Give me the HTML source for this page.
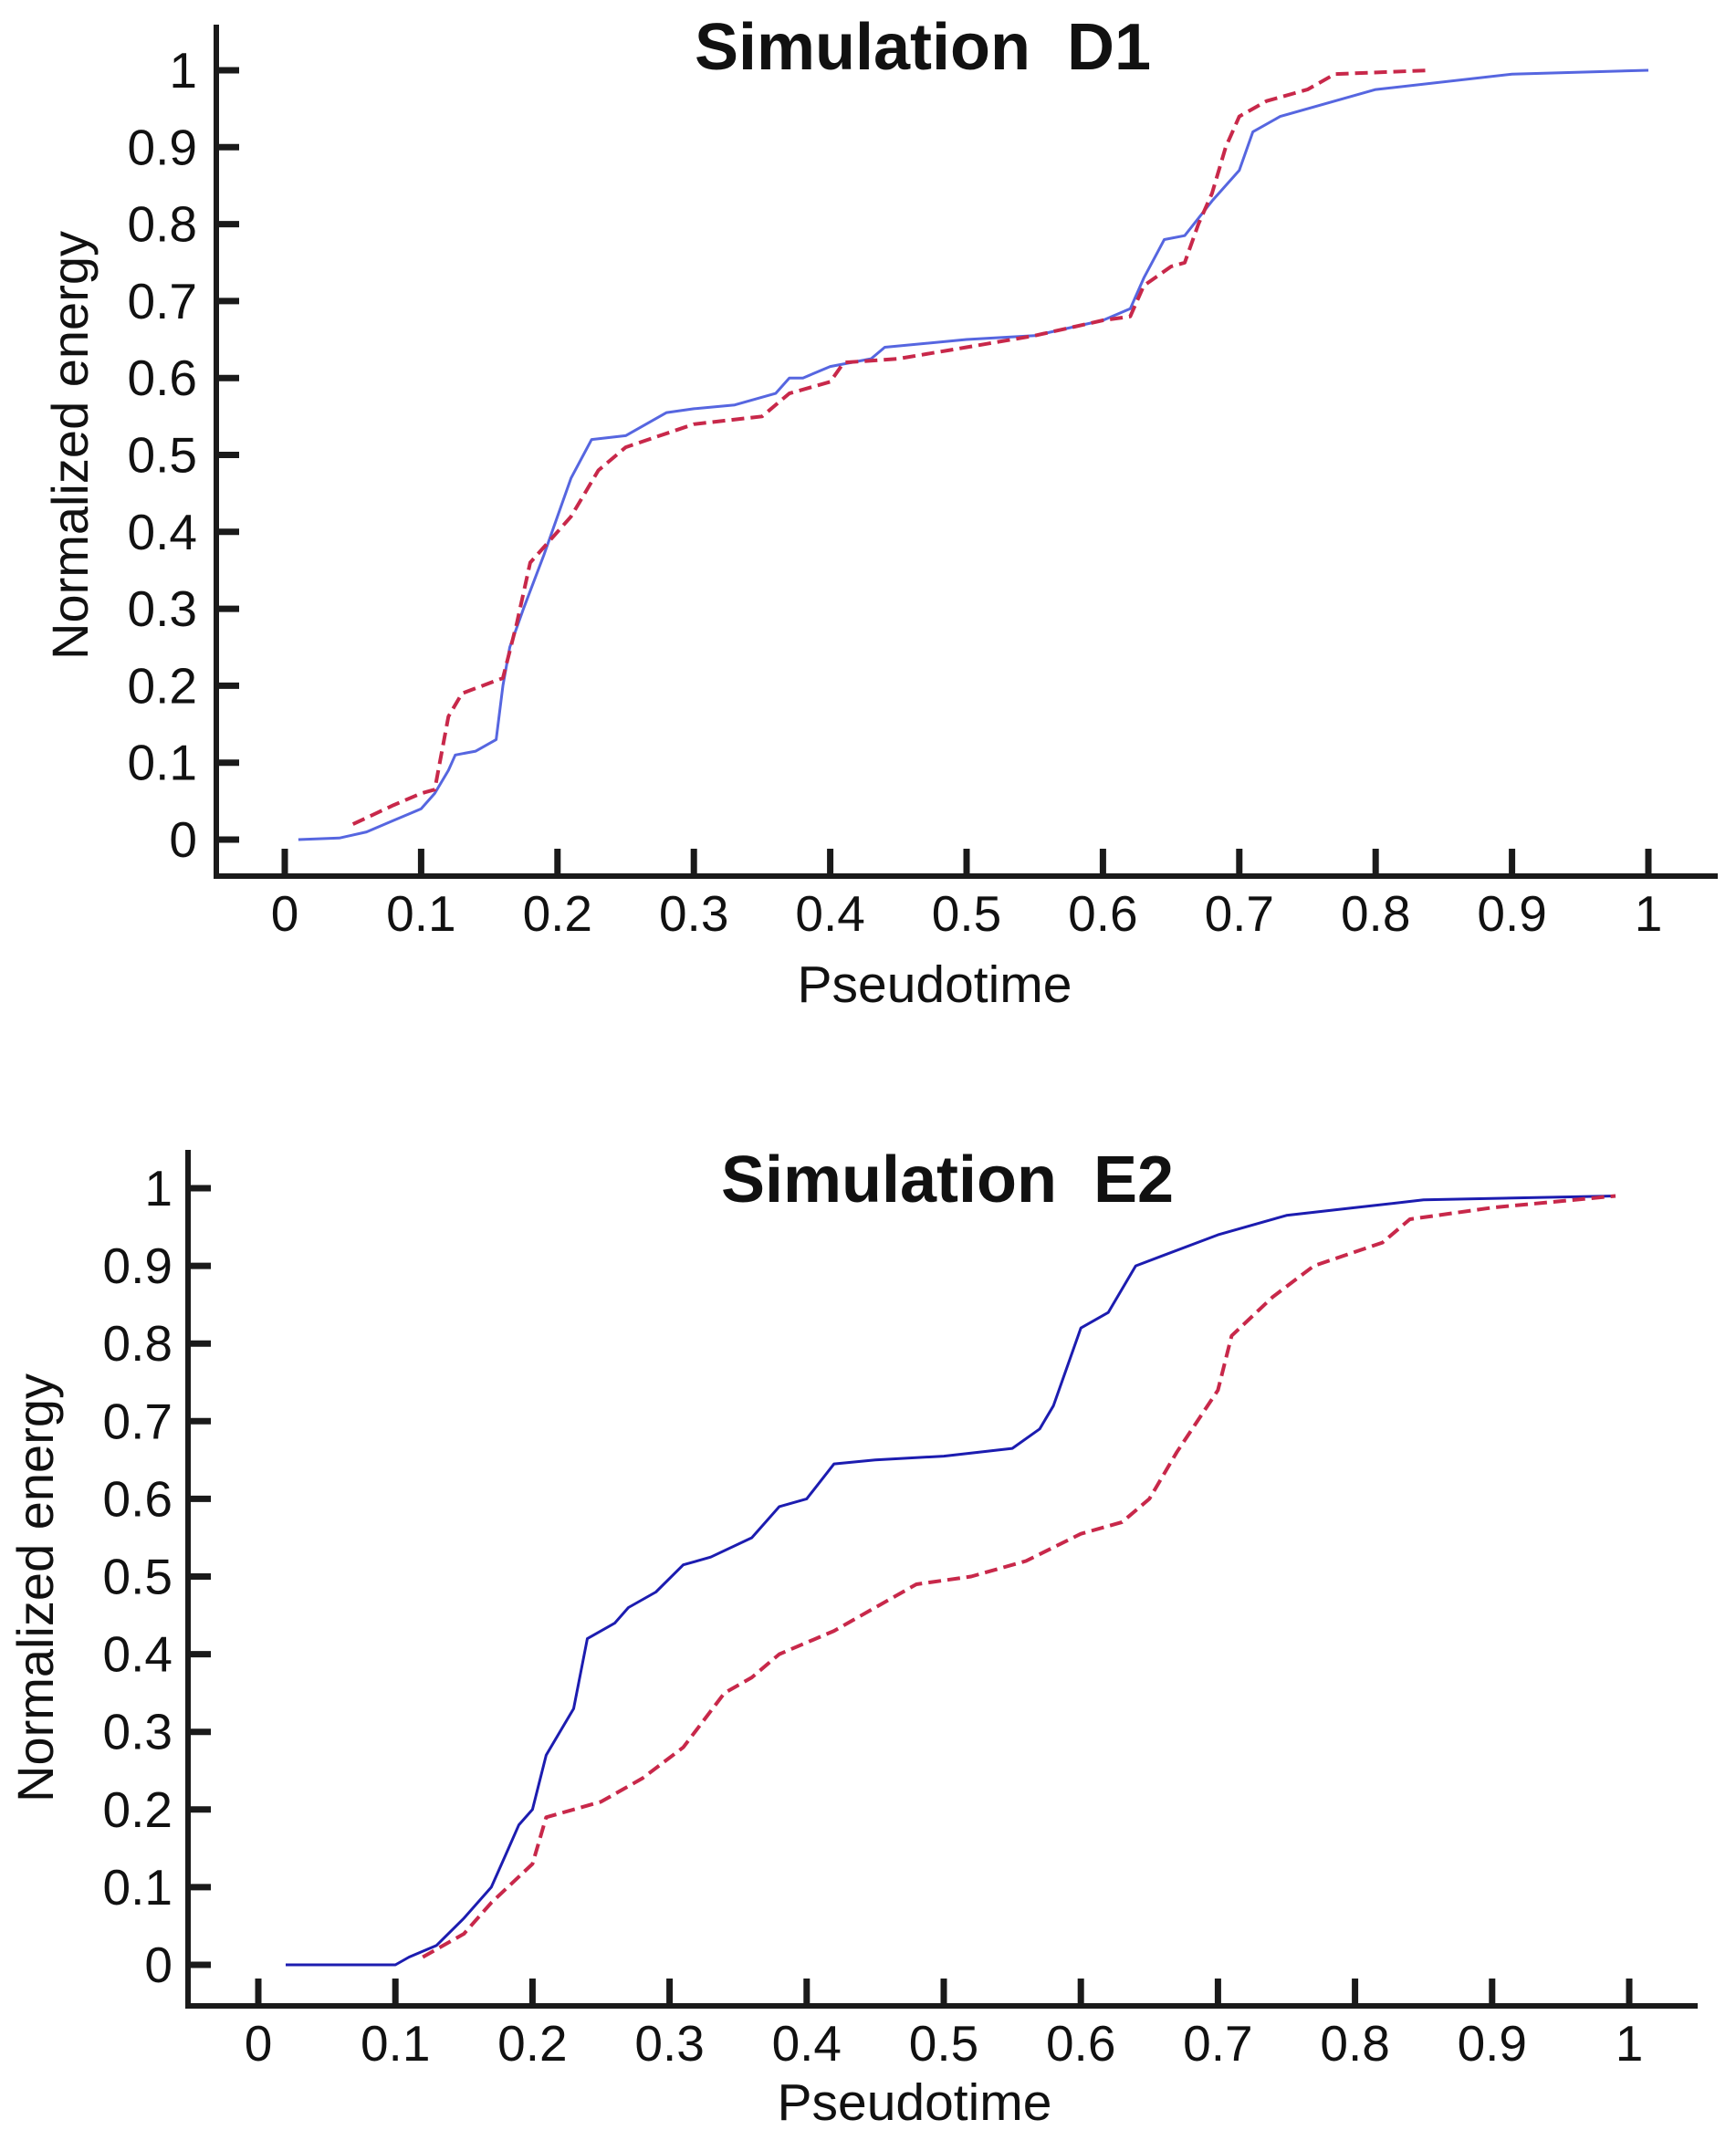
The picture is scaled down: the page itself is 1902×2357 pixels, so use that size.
<!DOCTYPE html>
<html><head><meta charset="utf-8">
<style>
html,body{margin:0;padding:0;background:#fff;}
svg{display:block;}
text{font-family:"Liberation Sans",Arial,sans-serif;fill:#111;}
</style></head>
<body>
<svg id="fig" width="1902" height="2357" viewBox="0 0 1902 2357" xmlns="http://www.w3.org/2000/svg"></svg>
<script>
// ---------- data ----------
const xTicks = [0,0.1,0.2,0.3,0.4,0.5,0.6,0.7,0.8,0.9,1];
const yTicks = [0,0.1,0.2,0.3,0.4,0.5,0.6,0.7,0.8,0.9,1];
const xTickLabels = ["0","0.1","0.2","0.3","0.4","0.5","0.6","0.7","0.8","0.9","1"];
const yTickLabels = ["0","0.1","0.2","0.3","0.4","0.5","0.6","0.7","0.8","0.9","1"];

const d1BlueX = [0.01,0.04,0.06,0.08,0.1,0.11,0.12,0.125,0.14,0.155,0.16,0.165,0.175,0.19,0.2,0.21,0.225,0.25,0.28,0.3,0.33,0.36,0.37,0.38,0.4,0.43,0.44,0.5,0.55,0.6,0.62,0.63,0.645,0.66,0.68,0.7,0.71,0.73,0.8,0.9,1.0];
const d1BlueY = [0,0.002,0.01,0.025,0.04,0.06,0.09,0.11,0.115,0.13,0.2,0.25,0.3,0.37,0.42,0.47,0.52,0.525,0.555,0.56,0.565,0.58,0.6,0.6,0.615,0.625,0.64,0.65,0.655,0.675,0.69,0.73,0.78,0.785,0.83,0.87,0.92,0.94,0.975,0.995,1.0];
const d1RedX = [0.05,0.08,0.1,0.11,0.12,0.13,0.16,0.17,0.18,0.2,0.21,0.23,0.25,0.3,0.35,0.37,0.4,0.41,0.45,0.5,0.55,0.6,0.62,0.63,0.65,0.66,0.67,0.68,0.69,0.7,0.72,0.75,0.77,0.84];
const d1RedY = [0.02,0.045,0.06,0.065,0.16,0.19,0.21,0.28,0.36,0.4,0.42,0.48,0.51,0.54,0.55,0.58,0.595,0.62,0.625,0.64,0.655,0.675,0.68,0.72,0.745,0.75,0.8,0.84,0.9,0.94,0.96,0.975,0.995,1.0];

const e2BlueX = [0.02,0.1,0.11,0.13,0.15,0.17,0.18,0.19,0.2,0.21,0.23,0.24,0.26,0.27,0.29,0.31,0.33,0.36,0.38,0.4,0.42,0.45,0.5,0.55,0.57,0.58,0.6,0.62,0.64,0.7,0.75,0.8,0.85,0.99];
const e2BlueY = [0,0,0.01,0.025,0.06,0.1,0.14,0.18,0.2,0.27,0.33,0.42,0.44,0.46,0.48,0.515,0.525,0.55,0.59,0.6,0.645,0.65,0.655,0.665,0.69,0.72,0.82,0.84,0.9,0.94,0.965,0.975,0.985,0.99];
const e2RedX = [0.12,0.15,0.17,0.2,0.21,0.23,0.25,0.28,0.31,0.34,0.36,0.38,0.42,0.45,0.48,0.52,0.56,0.6,0.63,0.65,0.67,0.7,0.71,0.74,0.77,0.82,0.84,0.9,0.99];
const e2RedY = [0.01,0.04,0.08,0.13,0.19,0.2,0.21,0.24,0.28,0.35,0.37,0.4,0.43,0.46,0.49,0.5,0.52,0.555,0.57,0.6,0.66,0.74,0.81,0.86,0.9,0.93,0.96,0.975,0.99];

// ---------- drawing ----------
const NS = "http://www.w3.org/2000/svg";
const svg = document.getElementById('fig');
function mk(tag, attrs, parent){
  const e = document.createElementNS(NS, tag);
  for (const k in attrs) e.setAttribute(k, attrs[k]);
  (parent||svg).appendChild(e);
  return e;
}

function drawPanel(p){
  const g = mk('g', {});
  
  
  const sx = v => p.x0 + v*(p.x1-p.x0);
  const sy = v => p.y0 + v*(p.y1-p.y0);

  const ya = mk('line', {x1:p.ax, y1:p.axTop, x2:p.ax, y2:p.ay+3, stroke:'#1a1a1a','stroke-width':6}, g);
  
  
  const xa = mk('line', {x1:p.ax-3, y1:p.ay, x2:p.axRight, y2:p.ay, stroke:'#1a1a1a','stroke-width':6}, g);
  
  

  xTicks.forEach((v,i)=>{
    const t = mk('line', {x1:sx(v), y1:p.ay, x2:sx(v), y2:p.ay-30, stroke:'#1a1a1a','stroke-width':7}, g);
    
    
    const l = mk('text', {x:sx(v), y:p.xLabelY, 'text-anchor':'middle','font-size':55}, g);
    l.textContent = xTickLabels[i];
    
    
  });
  yTicks.forEach((v,i)=>{
    const t = mk('line', {x1:p.ax, y1:sy(v), x2:p.ax+25, y2:sy(v), stroke:'#1a1a1a','stroke-width':7}, g);
    
    
    const l = mk('text', {x:p.yLabelRight, y:sy(v)+19, 'text-anchor':'end','font-size':55}, g);
    l.textContent = yTickLabels[i];
    
    
  });

  const title = mk('text', {x:p.titleX, y:p.titleY, 'text-anchor':'middle','font-size':72,'font-weight':'bold'}, g);
  title.textContent = p.title;
  
  

  const xt = mk('text', {x:p.xTitleX, y:p.xTitleY, 'text-anchor':'middle','font-size':57}, g);
  xt.textContent = 'Pseudotime';
  
  

  const yt = mk('text', {x:0, y:0, 'text-anchor':'middle','font-size':56, transform:`translate(${p.yTitleX},${p.yTitleY}) rotate(-90)`}, g);
  yt.textContent = 'Normalized energy';
  
  

  function series(xs, ys, color, dash, w, name){
    const d = xs.map((x,i)=>(i?'L':'M')+sx(x).toFixed(1)+' '+sy(ys[i]).toFixed(1)).join(' ');
    const path = mk('path', {d:d, fill:'none', stroke:color, 'stroke-width':w, 'stroke-linejoin':'round'}, g);
    if (dash) path.setAttribute('stroke-dasharray', dash);
    
    
  }
  series(p.blueX, p.blueY, p.blueColor, null, 3, 'blue-series-line');
  series(p.redX, p.redY, '#c8284a', '14 7', 4, 'red-dashed-series-line');
}

drawPanel({name:'panel-simulation-d1', title:'Simulation\u00a0 D1',
  ax:237, axTop:27, ay:960, axRight:1882,
  x0:312, x1:1806, y0:920, y1:77,
  xLabelY:1020, yLabelRight:216,
  titleX:1011, titleY:76, xTitleX:1024, xTitleY:1098, yTitleX:96, yTitleY:488,
  blueX:d1BlueX, blueY:d1BlueY, redX:d1RedX, redY:d1RedY, blueColor:'#5666e0'});

drawPanel({name:'panel-simulation-e2', title:'Simulation\u00a0 E2',
  ax:206, axTop:1260, ay:2198, axRight:1860,
  x0:283, x1:1785, y0:2153, y1:1302,
  xLabelY:2258, yLabelRight:189,
  titleX:1038, titleY:1317, xTitleX:1002, xTitleY:2323, yTitleX:58, yTitleY:1740,
  blueX:e2BlueX, blueY:e2BlueY, redX:e2RedX, redY:e2RedY, blueColor:'#1c1cb0'});
</script>
</body></html>
